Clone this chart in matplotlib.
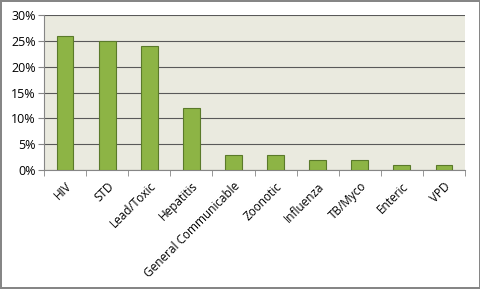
import matplotlib
matplotlib.use('Agg')
import matplotlib.pyplot as plt
from matplotlib.ticker import PercentFormatter, FixedLocator
import numpy as np

# data
categories = ['HIV', 'STD', 'Lead/Toxic', 'Hepatitis', 'General Communicable',
              'Zoonotic', 'Influenza', 'TB/Myco', 'Enteric', 'VPD']
shares = [26, 25, 24, 12, 3, 3, 2, 2, 1, 1]
yticks = [0, 5, 10, 15, 20, 25, 30]

plt.rcParams['font.family'] = ['Open Sans', 'DejaVu Sans']

fig = plt.figure(figsize=(4.81, 2.89), dpi=100)
fig.patch.set_facecolor('white')
fig.patch.set_edgecolor('#868686')
fig.patch.set_linewidth(1.5)

ax = fig.add_axes([44/481, 1 - 170/289, 421/481, 155/289])
ax.set_facecolor('#EAEADF')

x = np.arange(len(categories))
ax.bar(x, shares, width=0.4, color='#8DB445', edgecolor='#5A7A2A', linewidth=0.8, zorder=3)

ax.set_xlim(-0.5, len(categories) - 0.5)
ax.set_ylim(0, 30)
ax.set_yticks(yticks)
ax.yaxis.set_major_formatter(PercentFormatter(decimals=0))
ax.grid(axis='y', color='#595959', linewidth=0.8, zorder=0)

ax.set_xticks(x)
ax.set_xticklabels(categories, rotation=45, ha='right', rotation_mode='anchor', fontsize=8.5)
ax.xaxis.set_minor_locator(FixedLocator(np.arange(-0.5, len(categories), 1)))
ax.tick_params(axis='x', which='major', length=0, pad=7)
ax.tick_params(axis='x', which='minor', length=4, color='#868686', direction='out')
ax.tick_params(axis='y', length=4, color='#868686', labelsize=9, pad=2)

for side in ['top', 'right']:
    ax.spines[side].set_visible(False)
ax.spines['left'].set_color('#868686')
ax.spines['bottom'].set_color('#868686')

fig.savefig('out.png', dpi=100, facecolor=fig.get_facecolor(), edgecolor=fig.get_edgecolor())
